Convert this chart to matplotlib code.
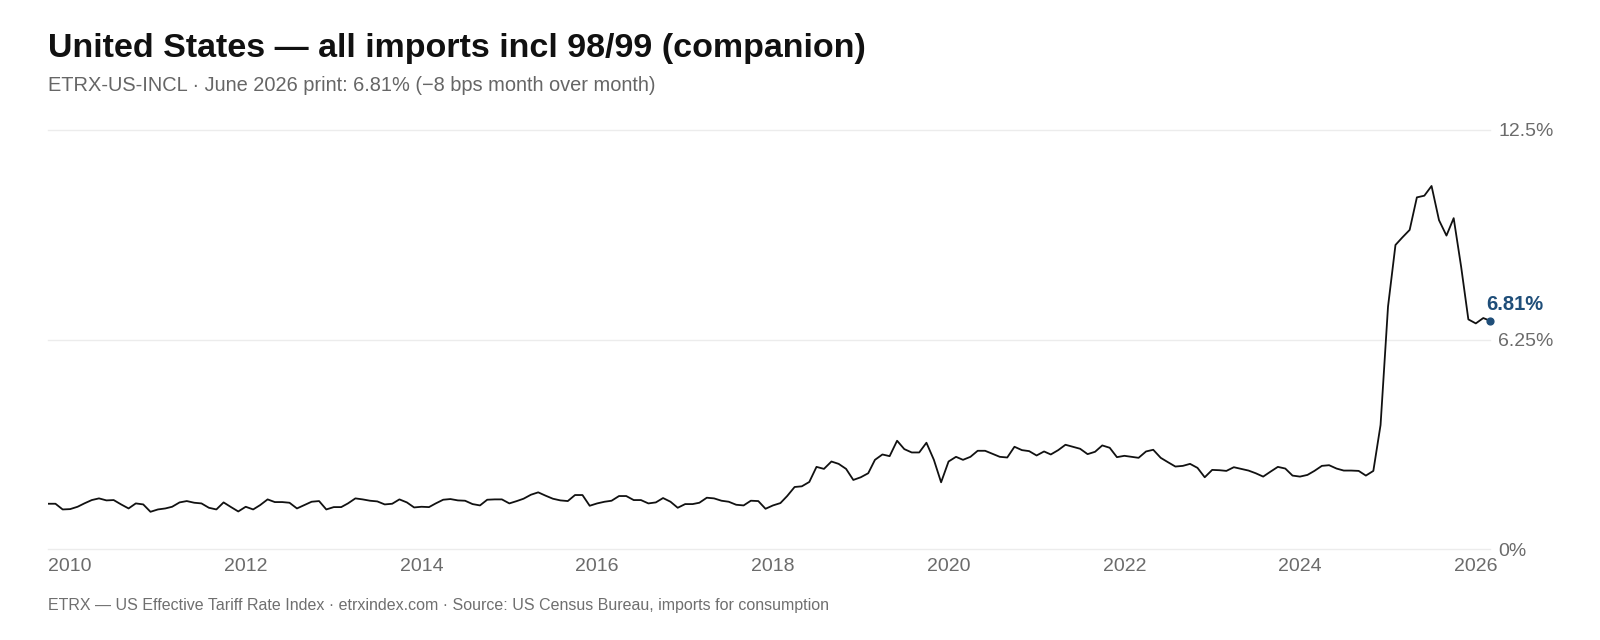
import matplotlib
matplotlib.use("Agg")
import matplotlib.pyplot as plt
import pandas as pd

plt.rcParams['font.family'] = ['Liberation Sans', 'DejaVu Sans']

# ---------------- data ----------------
start_month = "2009-10"
rate_pct = [
    1.35, 1.35, 1.18, 1.19, 1.26, 1.36, 1.46, 1.51, 1.45, 1.46, 1.33, 1.21,
    1.36, 1.33, 1.11, 1.18, 1.21, 1.26, 1.39, 1.43, 1.38, 1.36, 1.23, 1.18,
    1.39, 1.25, 1.12, 1.26, 1.18, 1.31, 1.48, 1.40, 1.40, 1.38,
    1.21, 1.31, 1.41, 1.43, 1.18, 1.25, 1.25, 1.36, 1.51, 1.48, 1.44, 1.42,
    1.33, 1.35, 1.48, 1.39, 1.24, 1.26, 1.25, 1.36, 1.47, 1.49, 1.45, 1.44,
    1.34, 1.30, 1.47, 1.48, 1.48, 1.36, 1.43, 1.50, 1.62,
    1.69, 1.59, 1.50, 1.45, 1.43, 1.61, 1.61, 1.29, 1.36, 1.41, 1.44, 1.58,
    1.58, 1.46, 1.46, 1.36, 1.39, 1.52, 1.41, 1.23, 1.34, 1.34, 1.38, 1.53,
    1.51, 1.44, 1.41, 1.32, 1.30, 1.44, 1.43, 1.20, 1.30, 1.37,
    1.58, 1.85, 1.87, 2.00, 2.45, 2.39, 2.61, 2.54, 2.39, 2.06, 2.14, 2.26,
    2.66, 2.82, 2.77, 3.23, 2.98, 2.88, 2.88, 3.17, 2.66, 1.99, 2.61, 2.75,
    2.66, 2.75, 2.93, 2.93, 2.84, 2.75, 2.73, 3.05, 2.95,
    2.92, 2.79, 2.91, 2.82, 2.95, 3.11, 3.05, 2.99, 2.83, 2.90, 3.09, 3.02,
    2.74, 2.78, 2.75, 2.72, 2.91, 2.96, 2.72, 2.59, 2.46, 2.48, 2.54, 2.42,
    2.14, 2.36, 2.35, 2.33, 2.44, 2.39, 2.34, 2.26, 2.16, 2.31, 2.45, 2.40,
    2.19, 2.16, 2.21, 2.33, 2.48, 2.50, 2.40, 2.34, 2.34, 2.33, 2.19, 2.33,
    3.70, 7.23, 9.07, 9.29, 9.52, 10.49, 10.54, 10.83, 9.81, 9.35, 9.87, 8.42,
    6.85, 6.73, 6.89, 6.81,
]
tick_years = [2010, 2012, 2014, 2016, 2018, 2020, 2022, 2024, 2026]
y_ticks = [0, 6.25, 12.5]
y_tick_labels = ["0%", "6.25%", "12.5%"]
last_label = "6.81%"

title = "United States \u2014 all imports incl 98/99 (companion)"
subtitle = "ETRX-US-INCL \u00b7 June 2026 print: 6.81% (\u22128 bps month over month)"
footer = ("ETRX \u2014 US Effective Tariff Rate Index \u00b7 etrxindex.com \u00b7 "
          "Source: US Census Bureau, imports for consumption")

dates = pd.date_range(start_month, periods=len(rate_pct), freq="MS")

# ---------------- figure ----------------
W, H = 1600, 640
fig = plt.figure(figsize=(W / 100, H / 100), dpi=100)
fig.patch.set_facecolor("white")

ax_l, ax_r, ax_t, ax_b = 48, 1490, 130, 549
ax = fig.add_axes([ax_l / W, 1 - ax_b / H, (ax_r - ax_l) / W, (ax_b - ax_t) / H])

for yv in y_ticks:
    ax.axhline(yv, color="#ececec", lw=1.0, zorder=0, clip_on=False)

ax.plot(dates, rate_pct, color="#111111", lw=1.3, solid_joinstyle="round", zorder=3)
ax.scatter([dates[-1]], [rate_pct[-1]], s=24, color="#1f4e79", zorder=5, clip_on=False)
ax.annotate(last_label, xy=(dates[-1], rate_pct[-1]), xytext=(-3, 7.7),
            textcoords="offset points", ha="left", va="baseline",
            fontsize=14.5, fontweight="bold", color="#1f4e79", annotation_clip=False)

ax.set_xlim(dates[0], dates[-1])
ax.set_ylim(0, 12.5)

ax.set_yticks(y_ticks)
ax.set_yticklabels(y_tick_labels)
ax.yaxis.tick_right()
ax.tick_params(axis="y", length=0, pad=5.8, labelsize=14, labelcolor="#6b6b6b")

ax.set_xticks([pd.Timestamp(f"{y}-01-01") for y in tick_years])
ax.set_xticklabels([str(y) for y in tick_years])
ax.tick_params(axis="x", length=0, pad=6.5, labelsize=14, labelcolor="#6b6b6b")

for sp in ax.spines.values():
    sp.set_visible(False)
ax.set_facecolor("none")

# ---------------- texts (fit widths) ----------------
renderer = fig.canvas.get_renderer()


def fit_text(x_px, base_px, s, target_w, size, **kw):
    t = fig.text(x_px / W, 1 - base_px / H, s, fontsize=size, va="baseline", ha="left", **kw)
    w = t.get_window_extent(renderer).width
    t.set_fontsize(size * target_w / w)
    return t


fit_text(48, 56.7, title, 816, 22, fontweight="bold", color="#111111")
fit_text(48, 91, subtitle, 607, 13, color="#666666")
fit_text(48, 610, footer, 778, 11, color="#6f6f6f")

fig.savefig("out.png", dpi=100, facecolor="white")
